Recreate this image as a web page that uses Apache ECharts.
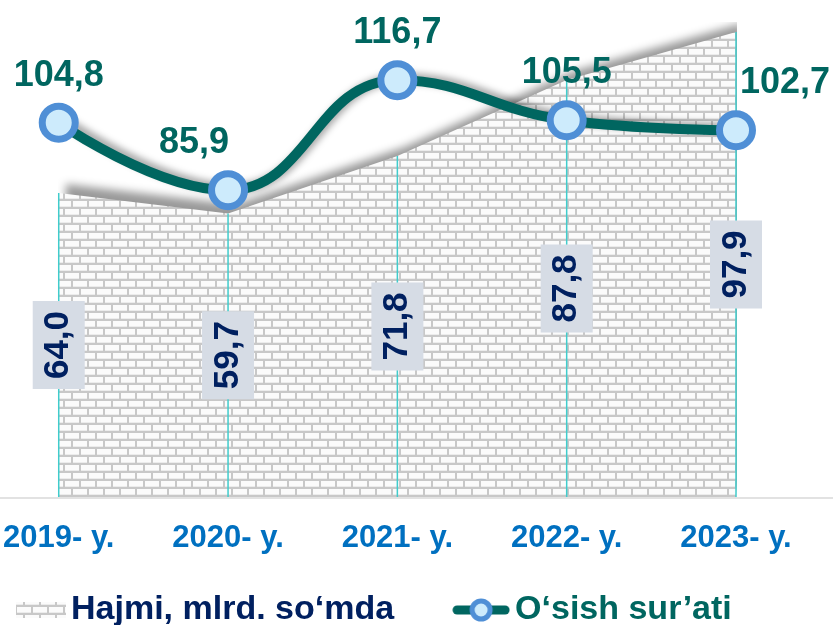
<!DOCTYPE html>
<html>
<head>
<meta charset="utf-8">
<script src="https://cdn.jsdelivr.net/npm/echarts@6/dist/echarts.min.js"></script>
<style>
html,body{margin:0;padding:0;background:#fff;}
#chart{width:833px;height:625px;}
</style>
</head>
<body>
<div id="chart"></div>
<script>
var categories = ['2019- y.', '2020- y.', '2021- y.', '2022- y.', '2023- y.'];
var volumeValues = [64.0, 59.7, 71.8, 87.8, 97.9];
var growthValues = [104.8, 85.9, 116.7, 105.5, 102.7];
var volumeName = 'Hajmi, mlrd. so\u2018mda';
var growthName = 'O\u2018sish sur\u2019ati';

function fmt(v) { return v.toFixed(1).replace('.', ','); }

// brick pattern tile
var tile = document.createElement('canvas');
tile.width = 16; tile.height = 16;
var c = tile.getContext('2d');
c.fillStyle = '#c8c8c8';
c.fillRect(0, 0, 16, 16);
c.fillStyle = '#fbfbfb';
c.fillRect(1, 1, 14, 6);
c.fillRect(-7, 9, 14, 6);
c.fillRect(9, 9, 14, 6);
c.fillStyle = '#ececec';
c.fillRect(1, 6, 14, 1);
c.fillRect(-7, 14, 14, 1);
c.fillRect(9, 14, 14, 1);
var brick = { image: tile, repeat: 'repeat' };

// legend icons
var ICON_W = 58, ICON_H = 24;
var ic1 = document.createElement('canvas');
ic1.width = ICON_W; ic1.height = ICON_H;
var g1 = ic1.getContext('2d');
g1.fillStyle = g1.createPattern(tile, 'repeat');
g1.fillRect(8, 4, 50, 16);
var ic2 = document.createElement('canvas');
ic2.width = ICON_W; ic2.height = ICON_H;
var g2 = ic2.getContext('2d');
g2.strokeStyle = '#006660';
g2.lineWidth = 9;
g2.lineCap = 'round';
g2.beginPath(); g2.moveTo(5, 12); g2.lineTo(53, 12); g2.stroke();
g2.beginPath(); g2.arc(29, 12, 9, 0, Math.PI * 2);
g2.fillStyle = '#cdebfc'; g2.fill();
g2.lineWidth = 5; g2.strokeStyle = '#4f8fd6'; g2.stroke();

var chart = echarts.init(document.getElementById('chart'));
var font = 'Liberation Sans, Arial, sans-serif';

var growthData = growthValues.map(function (v, i) {
  var d = { value: v };
  if (i === 1) d.label = { offset: [-34, 0] };
  if (i === 4) d.label = { offset: [49, 0] };
  return d;
});

chart.setOption({
  animation: false,
  backgroundColor: '#ffffff',
  grid: { left: 57, right: 97, top: 22, bottom: 128 },
  xAxis: {
    type: 'category',
    data: categories,
    boundaryGap: false,
    axisLine: { show: false },
    axisTick: { show: false },
    splitLine: { show: false },
    axisLabel: {
      color: '#0070C0', fontSize: 31, fontWeight: 'bold', fontFamily: font,
      margin: 26, interval: 0
    }
  },
  yAxis: [
    { type: 'value', min: 0, max: 100, show: false, splitLine: { show: false } },
    { type: 'value', min: 0, max: 133, show: false, splitLine: { show: false } }
  ],
  legend: {
    left: 3, top: 588,
    itemGap: 58,
    itemWidth: ICON_W, itemHeight: ICON_H,
    textStyle: { fontSize: 34, fontWeight: 'bold', fontFamily: font },
    data: [
      { name: volumeName, icon: 'image://' + ic1.toDataURL(),
        textStyle: { color: '#002060' } },
      { name: growthName, icon: 'image://' + ic2.toDataURL(),
        textStyle: { color: '#006660' } }
    ]
  },
  graphic: [
    { type: 'line', shape: { x1: 0, y1: 498, x2: 833, y2: 498 },
      style: { stroke: '#d9d9d9', lineWidth: 1.5 }, z: 1 }
  ],
  series: [
    {
      name: volumeName,
      type: 'line',
      yAxisIndex: 0,
      data: volumeValues,
      symbol: 'none',
      lineStyle: { width: 0 },
      areaStyle: {
        color: brick, opacity: 1,
        shadowColor: 'rgba(0,0,0,0.4)', shadowBlur: 8,
        shadowOffsetX: 7, shadowOffsetY: -9
      },
      itemStyle: { color: brick },
      z: 1
    },
    {
      name: 'drop',
      type: 'bar',
      yAxisIndex: 0,
      data: volumeValues,
      barWidth: 1.5,
      itemStyle: { color: '#40cccc' },
      label: {
        show: true, position: 'inside', rotate: 90,
        formatter: function (p) { return fmt(p.value); },
        color: '#002060', fontSize: 35, fontWeight: 'bold', fontFamily: font,
        backgroundColor: '#d6dce5', padding: [8, 10], lineHeight: 36
      },
      z: 2
    },
    {
      name: growthName,
      type: 'line',
      yAxisIndex: 1,
      data: growthData,
      smooth: 0.45,
      symbol: 'circle',
      symbolSize: 33,
      lineStyle: {
        color: '#006660', width: 10,
        shadowColor: 'rgba(0,0,0,0.35)', shadowBlur: 7,
        shadowOffsetX: 6, shadowOffsetY: -2
      },
      itemStyle: { color: '#cdebfc', borderColor: '#4f8fd6', borderWidth: 7 },
      label: {
        show: true, position: 'top', distance: 9,
        formatter: function (p) { return fmt(p.value); },
        color: '#006660', fontSize: 36, fontWeight: 'bold', fontFamily: font
      },
      z: 5
    }
  ]
});
</script>
</body>
</html>
